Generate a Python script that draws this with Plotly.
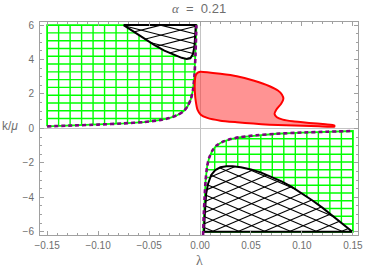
import numpy as np
import plotly.graph_objects as go

# ---------------- data ----------------
# boundary curve of the upper-left stability region (lambda < 0)
lam_up = [-0.15, -0.125, -0.10, -0.075, -0.055, -0.04, -0.03, -0.022, -0.016,
          -0.012, -0.009, -0.007, -0.0055, -0.0045, -0.0035]
k_up = [0.12, 0.17, 0.22, 0.29, 0.37, 0.48, 0.60, 0.78, 1.0,
        1.3, 1.7, 2.2, 3.0, 4.2, 6.0]

# boundary curve of the lower-right stability region (lambda > 0)
lam_lo = [0.003, 0.0037, 0.0045, 0.0055, 0.007, 0.009, 0.012, 0.016, 0.022,
          0.03, 0.04, 0.055, 0.075, 0.10, 0.125, 0.15]
k_lo = [-6.2, -5.0, -4.0, -3.0, -2.2, -1.7, -1.3, -1.0, -0.78,
        -0.62, -0.5, -0.4, -0.31, -0.24, -0.19, -0.15]

# upper black (cross-hatched) region: lower boundary, closed along k = 6
lam_b1 = [-0.075, -0.065, -0.055, -0.045, -0.035, -0.025, -0.018, -0.013,
          -0.0095, -0.007, -0.0055, -0.0047, -0.0042]
k_b1 = [6.0, 5.6, 5.2, 4.85, 4.52, 4.25, 4.10, 4.03, 4.07, 4.3, 4.75, 5.4, 6.0]

# lower black (cross-hatched) region: upper boundary, closed along k = -6
lam_b2 = [0.1495, 0.14, 0.13, 0.12, 0.11, 0.10, 0.09, 0.08, 0.07, 0.06, 0.05,
          0.04, 0.032, 0.026, 0.02, 0.015, 0.011, 0.008, 0.006, 0.005, 0.0045, 0.004]
k_b2 = [-6.0, -5.55, -5.05, -4.6, -4.17, -3.77, -3.4, -3.07, -2.8, -2.57, -2.38,
        -2.25, -2.2, -2.2, -2.26, -2.42, -2.7, -3.2, -3.8, -4.5, -5.2, -6.0]

# red region outline
lam_red = [0.0007, 0.0200, 0.0361, 0.0523, 0.0683, 0.0764, 0.0803, 0.0818, 0.0796,
           0.0748, 0.0731, 0.0754, 0.0812, 0.0909, 0.107, 0.1231, 0.1318,
           0.1318, 0.1166, 0.1006, 0.0844, 0.0683, 0.0523, 0.0361, 0.0200,
           0.0071, 0.0007, -0.0025, -0.0042, -0.0051, -0.0051, -0.0042, -0.0018]
k_red = [3.29, 3.17, 3.03, 2.78, 2.45, 2.20, 1.97, 1.72, 1.43,
         1.09, 0.84, 0.65, 0.51, 0.41, 0.32, 0.24, 0.18,
         0.10, 0.12, 0.15, 0.18, 0.22, 0.28, 0.36, 0.45,
         0.61, 0.80, 1.09, 1.58, 2.16, 2.74, 3.09, 3.25]

K_TOP, K_BOT = 6.0, -6.0
LAM_L, LAM_R = -0.15, 0.15
MESH_DIV = 13

x_ticks = [-0.15, -0.10, -0.05, 0.0, 0.05, 0.10, 0.15]
y_ticks = [-6, -4, -2, 0, 2, 4, 6]

# ---------------- helpers ----------------
SX, SY = 1035.0, 17.17  # approximate pixels per data unit (for hatch geometry)


def grid_mesh(xs_v, y0_fn, y1_fn, ys_h, x0_fn, x1_fn):
    gx, gy = [], []
    for xv in xs_v:
        gx += [xv, xv, None]
        gy += [y0_fn(xv), y1_fn(xv), None]
    for yh in ys_h:
        gx += [x0_fn(yh), x1_fn(yh), None]
        gy += [yh, yh, None]
    return gx, gy


def hatch(poly_x, poly_y, slope, spacing, phase):
    u = np.array(poly_x) * SX
    v = np.array(poly_y) * SY
    u = np.append(u, u[0])
    v = np.append(v, v[0])
    hx, hy = [], []
    for sgn in (1, -1):
        c_all = v - sgn * slope * u
        cmin, cmax = c_all.min(), c_all.max()
        c = cmin + ((phase - cmin) % spacing)
        while c < cmax:
            pts = []
            for i in range(len(u) - 1):
                f1 = v[i] - sgn * slope * u[i] - c
                f2 = v[i + 1] - sgn * slope * u[i + 1] - c
                if (f1 < 0) != (f2 < 0):
                    t = f1 / (f1 - f2)
                    pts.append((u[i] + t * (u[i + 1] - u[i]),
                                v[i] + t * (v[i + 1] - v[i])))
            pts.sort()
            for j in range(0, len(pts) - 1, 2):
                hx += [pts[j][0] / SX, pts[j + 1][0] / SX, None]
                hy += [pts[j][1] / SY, pts[j + 1][1] / SY, None]
            c += spacing
    return hx, hy


fig = go.Figure()
GREEN = "#00ff00"

# ---------------- upper-left green region ----------------
lam_up_a, k_up_a = np.array(lam_up), np.array(k_up)
xs_v = [LAM_L + i * (lam_up[-1] - LAM_L) / MESH_DIV for i in range(1, MESH_DIV)]
ys_h = [k_up[0] + j * (K_TOP - k_up[0]) / MESH_DIV for j in range(1, MESH_DIV)]
gx, gy = grid_mesh(xs_v, lambda x: float(np.interp(x, lam_up_a, k_up_a)), lambda x: K_TOP,
                   ys_h, lambda y: LAM_L, lambda y: float(np.interp(y, k_up_a, lam_up_a)))
fig.add_trace(go.Scatter(x=gx, y=gy, mode="lines", line=dict(color=GREEN, width=1.4),
                         hoverinfo="skip", showlegend=False))
fig.add_trace(go.Scatter(x=lam_up + [LAM_L, LAM_L], y=k_up + [K_TOP, k_up[0]], mode="lines",
                         line=dict(color=GREEN, width=1.8), hoverinfo="skip", showlegend=False))

# ---------------- lower-right green region ----------------
lam_lo_a, k_lo_a = np.array(lam_lo), np.array(k_lo)
lam_start = float(np.interp(K_BOT, k_lo_a, lam_lo_a))
xs_v2 = [lam_start + i * (LAM_R - lam_start) / MESH_DIV for i in range(1, MESH_DIV)]
ys_h2 = [K_BOT + j * (k_lo[-1] - K_BOT) / MESH_DIV for j in range(1, MESH_DIV)]
gx2, gy2 = grid_mesh(xs_v2, lambda x: K_BOT, lambda x: float(np.interp(x, lam_lo_a, k_lo_a)),
                     ys_h2, lambda y: float(np.interp(y, k_lo_a, lam_lo_a)), lambda y: LAM_R)
fig.add_trace(go.Scatter(x=gx2, y=gy2, mode="lines", line=dict(color=GREEN, width=1.4),
                         hoverinfo="skip", showlegend=False))
mask = k_lo_a > K_BOT
bx = [lam_start] + list(lam_lo_a[mask]) + [LAM_R, lam_start]
by = [K_BOT] + list(k_lo_a[mask]) + [K_BOT, K_BOT]
fig.add_trace(go.Scatter(x=bx, y=by, mode="lines", line=dict(color=GREEN, width=1.8),
                         hoverinfo="skip", showlegend=False))

# ---------------- black cross-hatched regions ----------------
for px, py, sl, sp, ph in [(lam_b1, k_b1, 0.25, 10.0, 3.0), (lam_b2, k_b2, 0.42, 11.0, 2.0)]:
    fig.add_trace(go.Scatter(x=px + [px[0]], y=py + [py[0]], mode="lines", fill="toself",
                             fillcolor="white", line=dict(color="black", width=0),
                             hoverinfo="skip", showlegend=False))
    hx, hy = hatch(px, py, sl, sp, ph)
    fig.add_trace(go.Scatter(x=hx, y=hy, mode="lines", line=dict(color="black", width=1.1),
                             hoverinfo="skip", showlegend=False))
    fig.add_trace(go.Scatter(x=px + [px[0]], y=py + [py[0]], mode="lines",
                             line=dict(color="black", width=2),
                             hoverinfo="skip", showlegend=False))

# ---------------- purple dashed boundary curves ----------------
for cx, cy in [(lam_up, k_up), (lam_lo, k_lo)]:
    fig.add_trace(go.Scatter(x=cx, y=cy, mode="lines",
                             line=dict(color="#800080", width=2.6, dash="4px,3px", shape="spline",
                                       smoothing=0.6),
                             hoverinfo="skip", showlegend=False))

# ---------------- red region ----------------
fig.add_trace(go.Scatter(x=lam_red + [lam_red[0]], y=k_red + [k_red[0]], mode="lines",
                         fill="toself", fillcolor="rgba(255,40,40,0.5)",
                         line=dict(color="#ff0000", width=2, shape="spline", smoothing=0.5),
                         hoverinfo="skip", showlegend=False))

AX_COL = "#a0a0a0"
TXT_COL = "#6e6e6e"
common = dict(showline=True, linecolor=AX_COL, linewidth=1, mirror="allticks",
              ticks="inside", ticklen=4, tickcolor=AX_COL, tickwidth=1,
              showgrid=False, zeroline=True, zerolinecolor="#c4c4c4", zerolinewidth=1,
              tickfont=dict(family="Liberation Sans, Arial, sans-serif", size=10, color=TXT_COL))

fig.update_xaxes(range=[-0.157, 0.155], tickvals=x_ticks, tickformat=".2f", ticklabelstandoff=1,
                 minor=dict(dtick=0.01, tick0=0, ticks="inside", ticklen=2, tickcolor=AX_COL),
                 **common)
fig.update_yaxes(range=[-6.19, 6.18], tickvals=y_ticks, ticklabelstandoff=3,
                 minor=dict(dtick=0.5, tick0=0, ticks="inside", ticklen=2, tickcolor=AX_COL),
                 **common)

fig.add_annotation(xref="paper", yref="paper", x=0.5, y=1.0, xanchor="center", yanchor="middle",
                   yshift=14, showarrow=False,
                   text="<span style='font-family:Liberation Serif,serif'><i>α</i></span>&nbsp; = &nbsp;0.21",
                   font=dict(family="Liberation Sans, Arial, sans-serif", size=13, color=TXT_COL))
fig.add_annotation(xref="paper", yref="paper", x=-0.095, y=0.51, xanchor="center",
                   yanchor="middle", showarrow=False, text="k/<i>μ</i>",
                   font=dict(family="Liberation Sans, Arial, sans-serif", size=12, color=TXT_COL))
fig.add_annotation(xref="paper", yref="paper", x=0.5, y=0, xanchor="center", yanchor="middle",
                   yshift=-25, showarrow=False, text="λ",
                   font=dict(family="Liberation Serif, serif", size=14, color=TXT_COL))

fig.update_layout(width=374, height=275, margin=dict(l=40, r=11, t=22, b=40),
                  plot_bgcolor="white", paper_bgcolor="white", showlegend=False)

# remove the default 8px page margin so the figure sits at the window's top-left corner
fig.write_html("out.html", config={"displayModeBar": False},
               post_script="document.body.style.margin='0';")
